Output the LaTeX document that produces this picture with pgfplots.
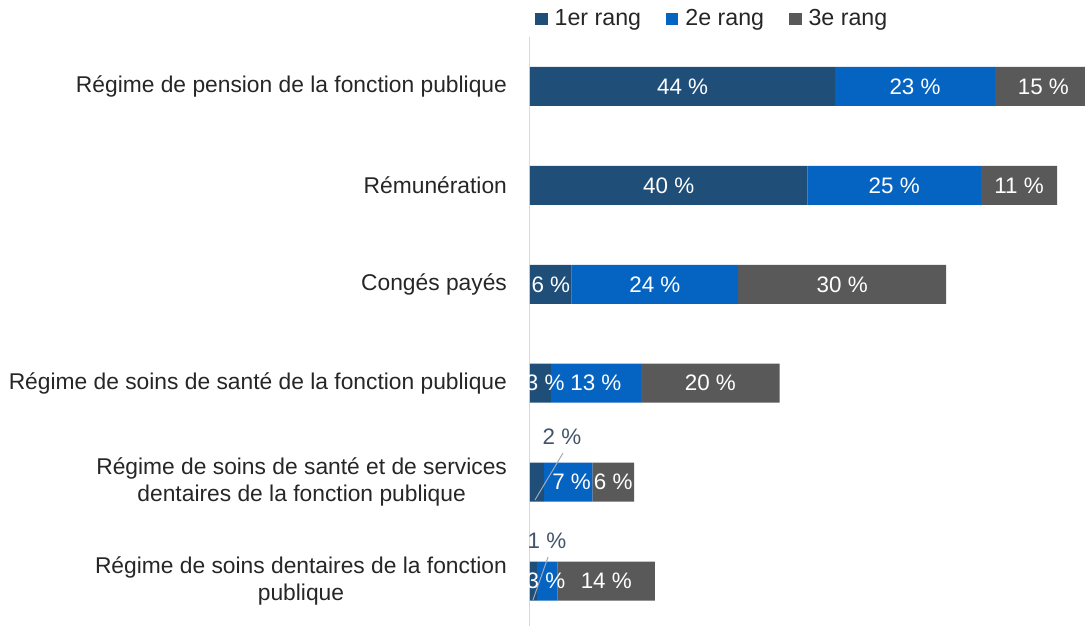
\documentclass[border=0pt]{standalone}
\usepackage{fontspec}
\setmainfont{Liberation Sans}
\usepackage{pgfplots}
\pgfplotsset{compat=1.18}
\definecolor{c1}{HTML}{1F4E79}
\definecolor{c2}{HTML}{0563C1}
\definecolor{c3}{HTML}{595959}
\definecolor{lab}{HTML}{44546A}
\newcommand{\fs}{\fontsize{11.4pt}{13.5pt}\selectfont}
\newcommand{\fl}{\fontsize{11.6pt}{13.5pt}\selectfont}
\newcommand{\fd}{\fontsize{11.2pt}{13.5pt}\selectfont}
\begin{document}
\begin{tikzpicture}
\pgfplotsset{base/.style={
  scale only axis, width=277.5pt, height=294.5pt,
  xmin=0, xmax=80, ymin=-0.5, ymax=5.4545, y dir=reverse,
}}
\begin{axis}[base, name=ax,
  xbar stacked, bar width=19.5pt,
  axis x line=none, axis y line=left,
  y axis line style={draw=black!15, line width=0.5pt, -},
  ytick={0,...,5},
  yticklabels={R\'egime de pension de la fonction publique,
    R\'emun\'eration,
    Cong\'es pay\'es,
    R\'egime de soins de sant\'e de la fonction publique,
    {R\'egime de soins de sant\'e et de services\\dentaires de la fonction publique},
    {R\'egime de soins dentaires de la fonction\\publique}},
  yticklabel style={align=center, font=\fs, text=black!85, xshift=-8pt},
  major tick length=0pt,
  legend columns=3,
  legend style={at={(-0.002,1.031)}, anchor=west, draw=none, font=\fl, text=black!85,
    /tikz/every odd column/.append style={column sep=1.5pt},
    /tikz/every even column/.append style={column sep=10.5pt}},
  legend image code/.code={\fill[#1] (0pt,-3.1pt) rectangle (6.2pt,3.1pt);},
  clip=true,
]
\addplot[fill=c1, draw=none] coordinates {(44,0) (40,1) (6,2) (3,3) (2,4) (1,5)};
\addplot[fill=c2, draw=none] coordinates {(23,0) (25,1) (24,2) (13,3) (7,4) (3,5)};
\addplot[fill=c3, draw=none] coordinates {(15,0) (11,1) (30,2) (20,3) (6,4) (14,5)};
\legend{1er rang, 2e rang, 3e rang}
\end{axis}
\begin{axis}[base, hide axis, clip=false]
\addplot[only marks, mark=none, nodes near coords, point meta=explicit symbolic,
  every node near coord/.append style={anchor=center, font=\fd, text=white}]
  table[meta=label] {
x y label
22 0 44~\%
55.5 0 23~\%
74 0 15~\%
20 1 40~\%
52.5 1 25~\%
70.5 1 11~\%
3 2 6~\%
18 2 24~\%
45 2 30~\%
2.2 3 3~\%
9.5 3 13~\%
26 3 20~\%
6 4 7~\%
12 4 6~\%
2.3 5 3~\%
11 5 14~\%
};
\draw[lab!50, line width=0.5pt] (axis cs:4.76,3.706) -- (axis cs:0.72,4.18);
\node[text=lab, font=\fd] at (axis cs:4.6,3.545) {2~\%};
\draw[lab!50, line width=0.5pt] (axis cs:2.6,4.758) -- (axis cs:0.43,5.19);
\node[text=lab, font=\fd] at (axis cs:2.45,4.596) {1~\%};
\end{axis}
\pgfresetboundingbox
\path ([xshift=-265pt]ax.south west) rectangle ([xshift=277.5pt,yshift=313pt]ax.south west);
\end{tikzpicture}
\end{document}
